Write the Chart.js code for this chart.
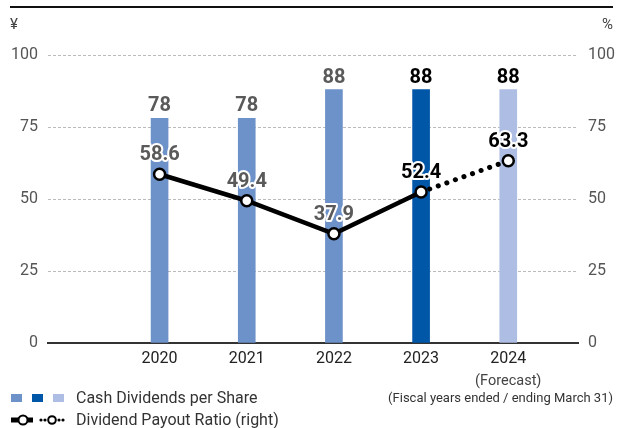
<!DOCTYPE html>
<html>
<head>
<meta charset="utf-8">
<script src="https://cdn.jsdelivr.net/npm/chart.js@4.4.1/dist/chart.umd.min.js"></script>
<style>
  html, body { margin: 0; padding: 0; background: #fff; }
  #wrap { position: relative; width: 617px; height: 428px; font-family: Roboto, "Liberation Sans", sans-serif; color: #333; }
  #chart { position: absolute; left: 0; top: 0; }
  .rule { position: absolute; left: 10px; top: 6px; width: 603px; height: 2px; background: #111; }
  .legend { position: absolute; left: 0; font-size: 16px; line-height: 20px; white-space: nowrap; }
  .legend .sq { position: absolute; top: 6px; width: 11px; height: 8px; }
  .legend .txt { position: absolute; left: 76px; top: 0; }
  .note { position: absolute; right: 4px; top: 388px; font-size: 13px; line-height: 20px; color: #333; white-space: nowrap; }
</style>
</head>
<body>
<div id="wrap">
  <canvas id="chart" width="617" height="428"></canvas>
  <div class="rule"></div>
  <div class="legend" style="top:388px; width:300px; height:20px;">
    <span class="sq" style="left:11px; background:#6d91c9;"></span>
    <span class="sq" style="left:32px; background:#0056a7;"></span>
    <span class="sq" style="left:53px; background:#aebde3;"></span>
    <span class="txt">Cash Dividends per Share</span>
  </div>
  <div class="legend" style="top:410px; width:300px; height:20px;">
    <svg width="70" height="20" style="position:absolute; left:0; top:0;">
      <line x1="11" y1="10" x2="33" y2="10" stroke="#000" stroke-width="5"/>
      <circle cx="23" cy="10" r="4.5" fill="#fff" stroke="#000" stroke-width="2"/>
      <circle cx="41" cy="10" r="1.6" fill="#000"/>
      <circle cx="45" cy="10" r="1.6" fill="#000"/>
      <circle cx="52" cy="10" r="3.8" fill="#fff" stroke="#000" stroke-width="2"/>
      <circle cx="59" cy="10" r="1.6" fill="#000"/>
      <circle cx="63" cy="10" r="1.6" fill="#000"/>
    </svg>
    <span class="txt">Dividend Payout Ratio (right)</span>
  </div>
  <div class="note">(Fiscal years ended / ending March 31)</div>
</div>
<script>
const years = [2020, 2021, 2022, 2023, 2024];
const dividends = [78, 78, 88, 88, 88];
const payoutRatio = [58.6, 49.4, 37.9, 52.4, 63.3];
const barColors = ['#6d91c9', '#6d91c9', '#6d91c9', '#0056a7', '#aebde3'];
const labelColors = ['#5a5a5a', '#5a5a5a', '#5a5a5a', '#000', '#000'];
const yTicks = [0, 25, 50, 75, 100];

const FONT = 'Roboto, "Liberation Sans", sans-serif';

// value labels, unit marks and the forecast note
const labelsPlugin = {
    id: 'valueLabels',
    afterDatasetsDraw(chart) {
        const ctx = chart.ctx;
        ctx.save();
        ctx.textAlign = 'center';
        ctx.textBaseline = 'middle';
        ctx.font = 'bold 20px ' + FONT;

        chart.getDatasetMeta(1).data.forEach((bar, i) => {
            ctx.fillStyle = labelColors[i];
            ctx.fillText(String(dividends[i]), bar.x, bar.y - 12);
        });

        chart.getDatasetMeta(0).data.forEach((pt, i) => {
            const txt = payoutRatio[i].toFixed(1);
            ctx.lineJoin = 'round';
            ctx.lineWidth = 4;
            ctx.strokeStyle = '#fff';
            ctx.strokeText(txt, pt.x, pt.y - 19);
            ctx.fillStyle = labelColors[i];
            ctx.fillText(txt, pt.x, pt.y - 19);
        });

        const x = chart.scales.x;
        ctx.font = '14.5px ' + FONT;
        ctx.fillStyle = '#444';
        ctx.fillText('(Forecast)', x.getPixelForValue(2024), 381);

        ctx.font = '15px ' + FONT;
        ctx.fillStyle = '#444';
        ctx.textAlign = 'left';
        ctx.fillText('¥', 10, 25);
        ctx.textAlign = 'right';
        ctx.fillText('%', 613, 25);
        ctx.restore();
    }
};

new Chart(document.querySelector('#chart').getContext('2d'), {
    type: 'bar',
    data: {
        datasets: [
            {
                type: 'line',
                label: 'Dividend Payout Ratio (right)',
                data: years.map((y, i) => ({ x: y, y: payoutRatio[i] })),
                yAxisID: 'y2',
                order: 0,
                borderColor: '#000',
                borderWidth: 4.5,
                borderCapStyle: 'round',
                pointRadius: 5.5,
                pointBorderWidth: 2.5,
                pointBackgroundColor: '#fff',
                pointBorderColor: '#000',
                segment: {
                    borderDash: c => c.p0DataIndex === 3 ? [0.1, 9] : undefined,
                    borderWidth: c => c.p0DataIndex === 3 ? 5 : undefined
                }
            },
            {
                label: 'Cash Dividends per Share',
                data: years.map((y, i) => ({ x: y, y: dividends[i] })),
                yAxisID: 'y',
                order: 1,
                backgroundColor: barColors,
                barThickness: 17
            }
        ]
    },
    options: {
        responsive: false,
        animation: false,
        devicePixelRatio: 1,
        layout: { padding: { top: 55, left: 0, right: 0, bottom: 0 } },
        plugins: { legend: { display: false }, tooltip: { enabled: false } },
        scales: {
            x: {
                type: 'linear',
                offset: false,
                min: 2018.72,
                max: 2024.8,
                afterBuildTicks: s => { s.ticks = years.map(v => ({ value: v })); },
                afterFit: s => { s.height = 85; },
                grid: { display: false, drawTicks: false, offset: false },
                border: { display: true, color: '#333', width: 2 },
                ticks: {
                    callback: v => String(v),
                    autoSkip: false,
                    maxRotation: 0,
                    padding: 6,
                    color: '#222',
                    font: { family: FONT, size: 16 }
                }
            },
            y: {
                position: 'left',
                min: 0,
                max: 100,
                afterBuildTicks: s => { s.ticks = yTicks.map(v => ({ value: v })); },
                afterFit: s => { s.width = 48; },
                grid: { color: '#bbb', lineWidth: 1, drawTicks: false },
                border: { display: false, dash: [3, 2] },
                ticks: { padding: 10, color: '#555', font: { family: FONT, size: 16 } }
            },
            y2: {
                position: 'right',
                min: 0,
                max: 100,
                afterBuildTicks: s => { s.ticks = yTicks.map(v => ({ value: v })); },
                afterFit: s => { s.width = 39; },
                grid: { display: false, drawTicks: false },
                border: { display: false },
                ticks: { padding: 10, color: '#555', font: { family: FONT, size: 16 } }
            }
        }
    },
    plugins: [labelsPlugin]
});
</script>
</body>
</html>
